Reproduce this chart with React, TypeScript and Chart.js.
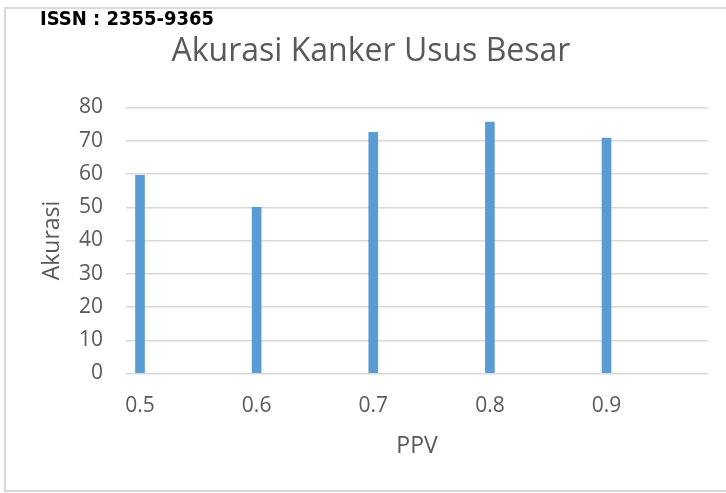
import React, { useEffect, useRef } from "react";
import { Chart, registerables } from "chart.js";

Chart.register(...registerables);

const chartTitle = "Akurasi Kanker Usus Besar";
const xAxisTitle = "PPV";
const yAxisTitle = "Akurasi";
const ppvValues = [0.5, 0.6, 0.7, 0.8, 0.9];
const akurasiValues = [59.6, 50, 72.5, 75.6, 70.8];
const yTickMin = 0;
const yTickMax = 80;
const yTickStep = 10;
const headerText = "ISSN : 2355-9365";

const TEXT = "#595959";
const GRID = "#d9d9d9";
const BAR = "#5b9bd5";
const FONT = '"Open Sans", "Noto Sans", sans-serif';

export default function App() {
  const ref = useRef<HTMLCanvasElement | null>(null);

  useEffect(() => {
    if (!ref.current) return;
    const chart = new Chart(ref.current, {
      type: "bar",
      data: {
        datasets: [
          {
            label: yAxisTitle,
            data: ppvValues.map((x, i) => ({ x, y: akurasiValues[i] })),
            backgroundColor: BAR,
            borderWidth: 0,
            barThickness: 9,
          },
        ],
      },
      options: {
        animation: false,
        responsive: true,
        maintainAspectRatio: false,
        layout: { padding: { left: 34, right: 18, top: 0, bottom: 0 } },
        plugins: {
          legend: { display: false },
          tooltip: { enabled: false },
          title: {
            display: true,
            text: chartTitle,
            color: TEXT,
            font: { family: FONT, size: 32, weight: "normal" },
            padding: { top: 33, bottom: 36.1 },
          },
        },
        scales: {
          x: {
            type: "linear",
            offset: false,
            min: 0.488,
            max: 0.987,
            grid: { display: false, drawTicks: false, offset: false },
            border: { display: false },
            afterBuildTicks: (scale: any) => {
              scale.ticks = ppvValues.map((v) => ({ value: v }));
            },
            afterFit: (scale: any) => {
              scale.height = 119.5;
            },
            ticks: {
              color: TEXT,
              font: { family: FONT, size: 21 },
              padding: 20,
              maxRotation: 0,
              autoSkip: false,
              callback: (v: any) => Number(v).toFixed(1),
            },
            title: {
              display: true,
              text: xAxisTitle,
              color: TEXT,
              font: { family: FONT, size: 23 },
              padding: { top: 0, bottom: 33 },
            },
          },
          y: {
            min: yTickMin,
            max: yTickMax,
            grid: { color: GRID, lineWidth: 1.5, drawTicks: false },
            border: { display: false },
            afterFit: (scale: any) => {
              scale.width = 92;
            },
            ticks: {
              stepSize: yTickStep,
              color: TEXT,
              font: { family: FONT, size: 21 },
              padding: 23,
            },
            title: {
              display: true,
              text: yAxisTitle,
              color: TEXT,
              font: { family: FONT, size: 23 },
              padding: { top: 5, bottom: 0 },
            },
          },
        },
      },
    });
    return () => chart.destroy();
  }, []);

  return (
    <div
      style={{
        position: "absolute",
        left: 0,
        top: 0,
        width: 726,
        height: 493,
        overflow: "hidden",
        background: "#ffffff",
      }}
    >
      <div
        style={{
          position: "absolute",
          left: 4,
          top: 7,
          width: 800,
          height: 481,
          border: `2px solid ${GRID}`,
        }}
      />
      <div style={{ position: "absolute", left: 0, top: 0, width: 726, height: 493 }}>
        <canvas ref={ref} />
      </div>
      <div
        style={{
          position: "absolute",
          left: 40,
          top: 8,
          fontFamily: '"DejaVu Sans Condensed", "DejaVu Sans", sans-serif',
          fontWeight: "bold",
          fontSize: 20,
          lineHeight: "20px",
          color: "#000000",
          whiteSpace: "nowrap",
        }}
      >
        {headerText}
      </div>
    </div>
  );
}
